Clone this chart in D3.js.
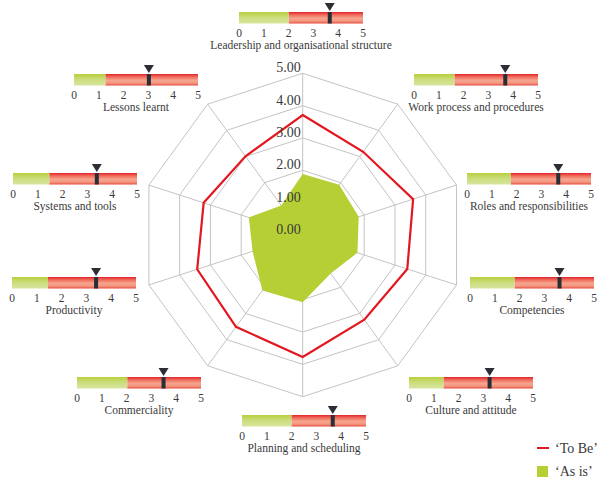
<!DOCTYPE html>
<html>
<head>
<meta charset="utf-8">
<script src="https://cdn.jsdelivr.net/npm/d3@7"></script>
<style>
  body { margin: 0; background: #fff; }
  svg text { font-family: "Liberation Serif", "DejaVu Serif", serif; fill: #3a3a3a; }
</style>
</head>
<body>
<svg id="chart"></svg>
<script>
// axes, clockwise from the top
const categories = [
    'Leadership and organisational structure',
    'Work process and procedures',
    'Roles and responsibilities',
    'Competencies',
    'Culture and attitude',
    'Planning and scheduling',
    'Commerciality',
    'Productivity',
    'Systems and tools',
    'Lessons learnt'
];

// radar series
const toBe = [3.71, 3.18, 3.59, 3.40, 3.24, 3.77, 3.51, 3.43, 3.22, 3.01];
const asIs = [1.89, 1.92, 1.82, 1.78, 1.47, 2.08, 2.12, 1.63, 1.75, 1.13];

// small gauges next to each axis
const gaugeAsIs = [2.01, 1.64, 1.77, 1.80, 1.40, 2.00, 2.03, 1.45, 1.47, 1.27];
const gaugeToBe = [3.66, 3.68, 3.68, 3.61, 3.25, 3.66, 3.49, 3.39, 3.38, 3.02];

const ringLevels = [0, 1, 2, 3, 4, 5];
const gaugeTicks = [0, 1, 2, 3, 4, 5];

// layout: left/top of each gauge bar
const gaugePos = [
    [239, 12], [414, 74], [467, 173], [470, 277], [409, 377],
    [242, 415], [77, 377], [12, 277], [13, 173], [74, 74]
];

const width = 597, height = 483;
const cx = 302.7, cy = 235, radius = 161.7;
const gaugeW = 124, gaugeH = 11.5;

const svg = d3.select('#chart')
    .attr('width', width)
    .attr('height', height);

const defs = svg.append('defs');

const greenGrad = defs.append('linearGradient')
    .attr('id', 'green-grad')
    .attr('x1', 0).attr('y1', 0).attr('x2', 0).attr('y2', 1);
greenGrad.selectAll('stop')
    .data([['0%', '#b8cf3c'], ['45%', '#cadd7a'], ['100%', '#d7e59e']])
    .join('stop')
    .attr('offset', d => d[0])
    .attr('stop-color', d => d[1]);

const redGrad = defs.append('linearGradient')
    .attr('id', 'red-grad')
    .attr('x1', 0).attr('y1', 0).attr('x2', 0).attr('y2', 1);
redGrad.selectAll('stop')
    .data([['0%', '#e4222a'], ['25%', '#ef6c5c'], ['55%', '#f6a58e'], ['80%', '#f39680'], ['100%', '#e8483c']])
    .join('stop')
    .attr('offset', d => d[0])
    .attr('stop-color', d => d[1]);

// ---- radar ----
const rScale = d3.scaleLinear().domain([0, 5]).range([0, radius]);
const angle = i => i * 2 * Math.PI / categories.length;
const point = (v, i) => [cx + rScale(v) * Math.sin(angle(i)), cy - rScale(v) * Math.cos(angle(i))];

const radar = svg.append('g');

radar.selectAll('.ring')
    .data(ringLevels.filter(d => d > 0))
    .join('polygon')
    .attr('class', 'ring')
    .attr('points', d => categories.map((c, i) => point(d, i).join(',')).join(' '))
    .attr('fill', 'none')
    .attr('stroke', '#c4c4c4')
    .attr('stroke-width', 1);

radar.selectAll('.spoke')
    .data(categories)
    .join('line')
    .attr('class', 'spoke')
    .attr('x1', cx).attr('y1', cy)
    .attr('x2', (d, i) => point(5, i)[0])
    .attr('y2', (d, i) => point(5, i)[1])
    .attr('stroke', '#c4c4c4')
    .attr('stroke-width', 1);

radar.append('polygon')
    .attr('points', asIs.map((v, i) => point(v, i).join(',')).join(' '))
    .attr('fill', '#b5cf34');

radar.append('polygon')
    .attr('points', toBe.map((v, i) => point(v, i).join(',')).join(' '))
    .attr('fill', 'none')
    .attr('stroke', '#e3171f')
    .attr('stroke-width', 2.2)
    .attr('stroke-linejoin', 'miter');

radar.selectAll('.ring-label')
    .data(ringLevels)
    .join('text')
    .attr('class', 'ring-label')
    .attr('x', cx - 2)
    .attr('y', d => cy - rScale(d) - 1)
    .attr('text-anchor', 'end')
    .attr('font-size', 14)
    .text(d => d.toFixed(2));

// ---- gauges ----
const gScale = d3.scaleLinear().domain([0, 5]).range([0, gaugeW]);

const gauges = svg.selectAll('.gauge')
    .data(categories)
    .join('g')
    .attr('class', 'gauge')
    .attr('transform', (d, i) => `translate(${gaugePos[i][0]}, ${gaugePos[i][1]})`);

gauges.append('rect')
    .attr('width', (d, i) => gScale(gaugeAsIs[i]))
    .attr('height', gaugeH)
    .attr('fill', 'url(#green-grad)');

gauges.append('rect')
    .attr('x', (d, i) => gScale(gaugeAsIs[i]))
    .attr('width', (d, i) => gScale(5) - gScale(gaugeAsIs[i]))
    .attr('height', gaugeH)
    .attr('fill', 'url(#red-grad)');

gauges.append('rect')
    .attr('x', (d, i) => gScale(gaugeToBe[i]) - 2)
    .attr('width', 4)
    .attr('height', gaugeH)
    .attr('fill', '#2c2e36');

gauges.append('path')
    .attr('d', (d, i) => {
        const x = gScale(gaugeToBe[i]);
        return `M${x - 5},-9 L${x + 5},-9 L${x},-1 Z`;
    })
    .attr('fill', '#2c2e36');

gauges.selectAll('.tick')
    .data(gaugeTicks)
    .join('text')
    .attr('class', 'tick')
    .attr('x', d => gScale(d))
    .attr('y', gaugeH + 13)
    .attr('text-anchor', 'middle')
    .attr('font-size', 11.5)
    .text(d => d);

gauges.append('text')
    .attr('x', gaugeW / 2)
    .attr('y', gaugeH + 25)
    .attr('text-anchor', 'middle')
    .attr('font-size', 11.5)
    .text(d => d);

// ---- legend ----
const legend = svg.append('g').attr('transform', 'translate(537, 448)');

legend.append('line')
    .attr('x1', 0).attr('x2', 12)
    .attr('y1', 0).attr('y2', 0)
    .attr('stroke', '#e3171f')
    .attr('stroke-width', 2);

legend.append('text')
    .attr('x', 18).attr('y', 5)
    .attr('font-size', 14)
    .text('\u2018To Be\u2019');

legend.append('rect')
    .attr('x', 0).attr('y', 18)
    .attr('width', 11).attr('height', 11)
    .attr('fill', '#b5cf34');

legend.append('text')
    .attr('x', 18).attr('y', 28)
    .attr('font-size', 14)
    .text('\u2018As is\u2019');
</script>
</body>
</html>
